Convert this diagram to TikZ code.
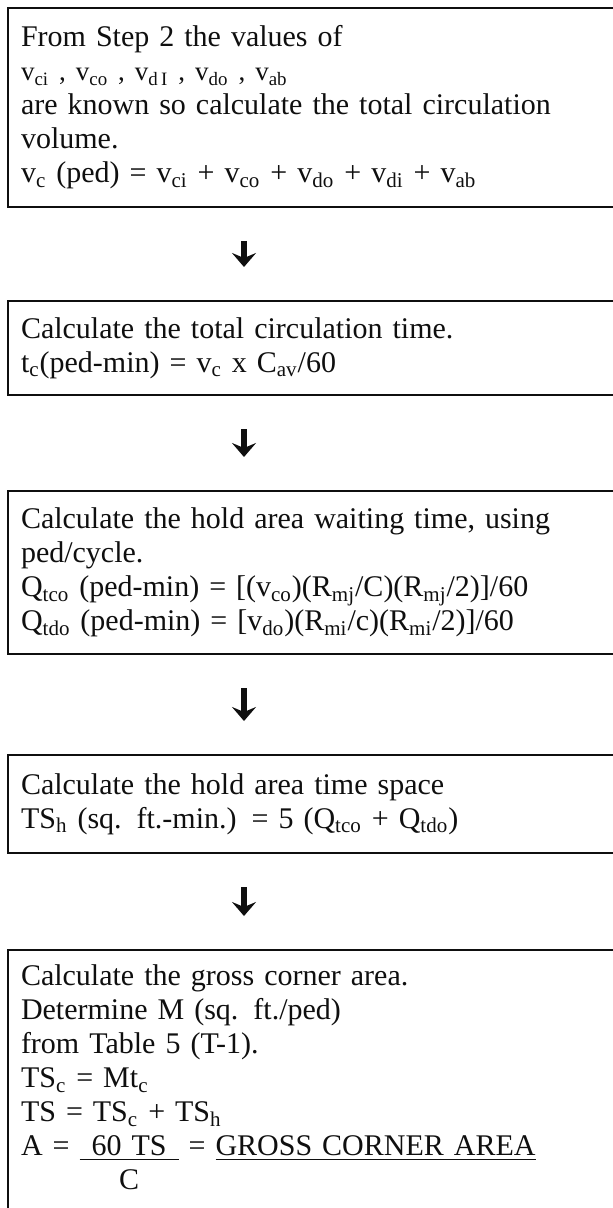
\documentclass[tikz,border=0pt]{standalone}
\usepackage{fontspec}
\setmainfont{Liberation Serif}
\usetikzlibrary{arrows.meta, positioning}
\definecolor{scanink}{RGB}{15,15,15}

\begin{document}
\begin{tikzpicture}[
    x=0.5pt, y=-0.5pt,
    %% ── node styles ──────────────────────────────────────────────────────────
    stepbox/.style={
        draw=scanink, line width=1pt, anchor=north west,
        text width=297pt, inner xsep=6.5pt, inner ysep=0pt,
        align=left, text=scanink,
        font=\fontsize{15pt}{17pt}\selectfont
    },
    %% ── edge styles ──────────────────────────────────────────────────────────
    flow/.style={
        -{Stealth[length=7pt, width=12pt, inset=2.5pt]},
        draw=scanink, line width=3pt,
        shorten <=16.5pt, shorten >=16.5pt
    },
]
\useasboundingbox (0,0) rectangle (613,1208);

%% ── Steps (one column, boxes run past the right edge) ───────────────────────
\node[stepbox, minimum height=99.5pt] (volume) at (7,7)
    {From Step 2 the values of\\
     {\fontsize{13.5pt}{17pt}\selectfont v\textsubscript{ci} , v\textsubscript{co} , v\textsubscript{d\,I} , v\textsubscript{do} , v\textsubscript{ab}}\\
     are known so calculate the total circulation\\
     volume.\\
     v\textsubscript{c} (ped) = v\textsubscript{ci} + v\textsubscript{co} + v\textsubscript{do} + v\textsubscript{di} + v\textsubscript{ab}};

\node[stepbox, minimum height=47pt] (circtime) at (7,300)
    {Calculate the total circulation time.\\
     t\textsubscript{c}(ped-min) = v\textsubscript{c} x C\textsubscript{av}/60};

\node[stepbox, minimum height=81.5pt] (waiting) at (7,490)
    {Calculate the hold area waiting time, using\\
     ped/cycle.\\
     Q\textsubscript{tco} (ped-min) = [(v\textsubscript{co})(R\textsubscript{mj}/C)(R\textsubscript{mj}/2)]/60\\
     Q\textsubscript{tdo} (ped-min) = [v\textsubscript{do})(R\textsubscript{mi}/c)(R\textsubscript{mi}/2)]/60};

\node[stepbox, minimum height=49pt] (holdspace) at (7,754)
    {Calculate the hold area time space\\
     TS\textsubscript{h} (sq. ft.-min.) = 5 (Q\textsubscript{tco} + Q\textsubscript{tdo})};

\node[stepbox, minimum height=132.5pt] (gross) at (7,949)
    {Calculate the gross corner area.\\
     Determine M (sq. ft./ped)\\
     from Table 5 (T-1).\\
     TS\textsubscript{c} = Mt\textsubscript{c}\\
     TS = TS\textsubscript{c} + TS\textsubscript{h}\\
     A = \begin{tabular}[t]{@{}c@{}}\underline{\hspace{0.4em}60 TS\hspace{0.4em}}\\ C\end{tabular}
     = \underline{GROSS CORNER AREA}};

%% ── Flow arrows ─────────────────────────────────────────────────────────────
\coordinate (axis) at (244,0);
\draw[flow] (volume.south -| axis)    -- (circtime.north -| axis);
\draw[flow] (circtime.south -| axis)  -- (waiting.north -| axis);
\draw[flow] (waiting.south -| axis)   -- (holdspace.north -| axis);
\draw[flow] (holdspace.south -| axis) -- (gross.north -| axis);

\end{tikzpicture}
\end{document}
